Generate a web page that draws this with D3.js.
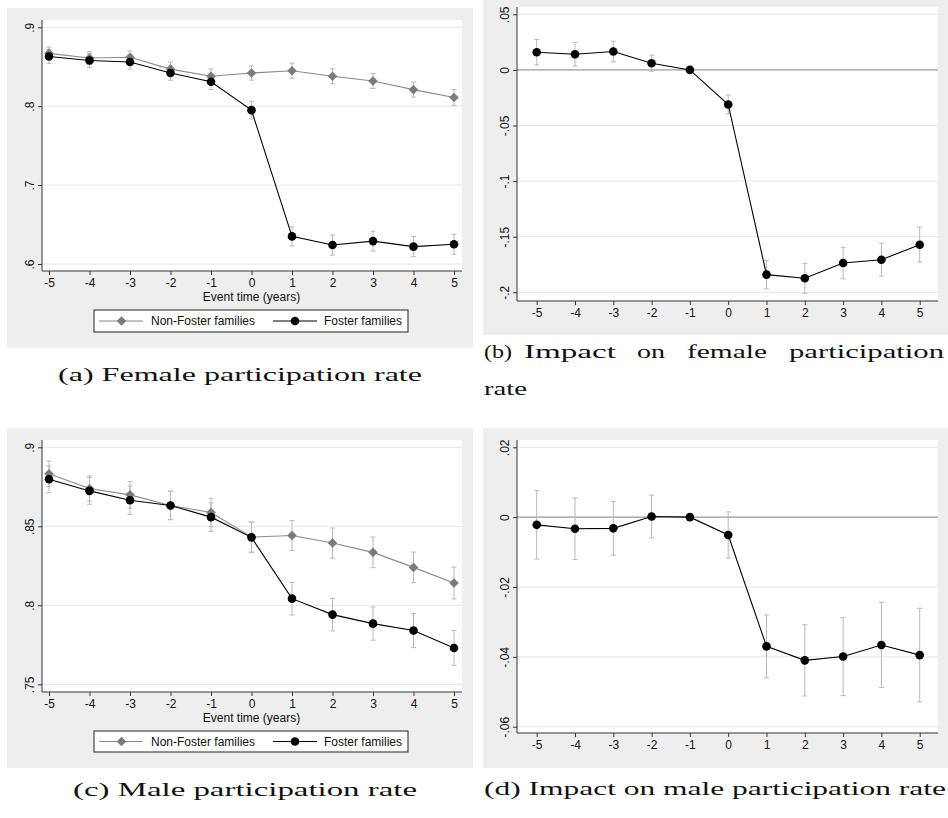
<!DOCTYPE html>
<html>
<head>
<meta charset="utf-8">
<script src="https://cdn.jsdelivr.net/npm/d3@7"></script>
<style>
  body { margin: 0; background: #fff; }
  svg { display: block; }
  .tick text { font-family: "Liberation Sans", Arial, sans-serif; font-size: 12px; fill: #111; }
  .cap { font-family: "Liberation Serif", "DejaVu Serif", serif; font-size: 18.5px; fill: #111; }
</style>
</head>
<body>
<svg id="fig" width="948" height="818"></svg>
<script>
// event time
var years = [-5, -4, -3, -2, -1, 0, 1, 2, 3, 4, 5];

// (a) female participation rate
var femNonFoster   = [0.867, 0.861, 0.862, 0.847, 0.838, 0.842, 0.845, 0.838, 0.832, 0.821, 0.811];
var femNonFosterCi = [0.008, 0.008, 0.008, 0.009, 0.009, 0.009, 0.0095, 0.0095, 0.0095, 0.0095, 0.01];
var femFoster      = [0.863, 0.858, 0.856, 0.842, 0.831, 0.795, 0.635, 0.624, 0.629, 0.622, 0.625];
var femFosterCi    = [0.009, 0.009, 0.009, 0.009, 0.01, 0.011, 0.012, 0.0127, 0.0125, 0.0127, 0.0127];

// (b) impact on female participation
var femImpact   = [0.0159, 0.0141, 0.0165, 0.006, 0, -0.0311, -0.1841, -0.1874, -0.1737, -0.1707, -0.1572];
var femImpactCi = [0.0115, 0.0106, 0.0093, 0.0072, 0, 0.0085, 0.0129, 0.0135, 0.0142, 0.0148, 0.0157];

// (c) male participation rate
var maleNonFoster   = [0.8832, 0.8739, 0.8699, 0.8632, 0.8587, 0.8432, 0.8442, 0.8394, 0.8335, 0.824, 0.8141];
var maleNonFosterCi = [0.008, 0.008, 0.0085, 0.009, 0.009, 0.0095, 0.0095, 0.0095, 0.0097, 0.0097, 0.0101];
var maleFoster      = [0.8798, 0.8724, 0.8665, 0.8632, 0.8558, 0.843, 0.8042, 0.7941, 0.7884, 0.784, 0.773];
var maleFosterCi    = [0.0085, 0.0085, 0.009, 0.009, 0.009, 0.0095, 0.0103, 0.0103, 0.0105, 0.0108, 0.011];

// (d) impact on male participation
var maleImpact   = [-0.0022, -0.0033, -0.0032, 0.0002, 0, -0.0051, -0.037, -0.041, -0.0399, -0.0366, -0.0395];
var maleImpactCi = [0.0098, 0.0088, 0.0077, 0.0061, 0, 0.0066, 0.009, 0.0102, 0.0112, 0.0122, 0.0134];

// axis ticks
var ticksA = [0.6, 0.7, 0.8, 0.9],          labelsA = [".6", ".7", ".8", ".9"];
var ticksB = [-0.2, -0.15, -0.1, -0.05, 0, 0.05], labelsB = ["-.2", "-.15", "-.1", "-.05", "0", ".05"];
var ticksC = [0.75, 0.8, 0.85, 0.9],        labelsC = [".75", ".8", ".85", ".9"];
var ticksD = [-0.06, -0.04, -0.02, 0, 0.02], labelsD = ["-.06", "-.04", "-.02", "0", ".02"];

var legendLabels = ["Non-Foster families", "Foster families"];

var svg = d3.select("#fig");
var gridCol = "#e6e6e6", barCol = "#b9b9b9", greyLine = "#8a8a8a", greyMark = "#7b7b7b", axisCol = "#333";

function fmtFrom(ticks, labels) {
  return function(d) {
    var i = ticks.findIndex(function(t) { return Math.abs(t - d) < 1e-9; });
    return i < 0 ? "" : labels[i];
  };
}

// one stata-style panel
function panel(cfg) {
  svg.append("rect").attr("x", cfg.bg[0]).attr("y", cfg.bg[1])
    .attr("width", cfg.bg[2]).attr("height", cfg.bg[3]).attr("fill", "#eeeeee");
  var p = cfg.plot; // [x0, y0, x1, y1]
  svg.append("rect").attr("x", p[0]).attr("y", p[1])
    .attr("width", p[2] - p[0]).attr("height", p[3] - p[1]).attr("fill", "#fff");

  var x = d3.scaleLinear().domain([-5, 5]).range(cfg.xr);
  var y = d3.scaleLinear().domain([cfg.ticks[0], cfg.ticks[cfg.ticks.length - 1]]).range(cfg.yr);

  // grid
  svg.append("g").selectAll("line").data(cfg.ticks).join("line")
    .attr("x1", p[0]).attr("x2", p[2])
    .attr("y1", function(d) { return y(d); }).attr("y2", function(d) { return y(d); })
    .attr("stroke", function(d) { return (cfg.zero && d === 0) ? "#9a9a9a" : gridCol; })
    .attr("stroke-width", function(d) { return (cfg.zero && d === 0) ? 1.3 : 1; });

  // axes
  var ya = svg.append("g").attr("transform", "translate(" + p[0] + ",0)")
    .call(d3.axisLeft(y).tickValues(cfg.ticks).tickFormat(fmtFrom(cfg.ticks, cfg.labels)).tickSize(4).tickPadding(0));
  ya.select(".domain").remove();
  ya.selectAll(".tick line").attr("stroke", axisCol);
  ya.selectAll(".tick text").attr("text-anchor", "middle").attr("x", 0).attr("dy", 0)
    .attr("transform", "translate(-8,0) rotate(-90)");

  var xa = svg.append("g").attr("transform", "translate(0," + p[3] + ")")
    .call(d3.axisBottom(x).tickValues(years).tickFormat(d3.format("d")).tickSize(4).tickPadding(3));
  xa.select(".domain").remove();
  xa.selectAll(".tick line").attr("stroke", axisCol);
  xa.selectAll(".tick text").text(function(d) { return d < 0 ? "-" + Math.abs(d) : d; });

  svg.append("line").attr("x1", p[0]).attr("x2", p[0]).attr("y1", p[1]).attr("y2", p[3]).attr("stroke", axisCol);
  svg.append("line").attr("x1", p[0]).attr("x2", p[2]).attr("y1", p[3]).attr("y2", p[3]).attr("stroke", axisCol);

  if (cfg.xtitle) {
    svg.append("text").attr("x", (cfg.xr[0] + cfg.xr[1]) / 2).attr("y", p[3] + 30)
      .attr("text-anchor", "middle").attr("font-family", "Liberation Sans, Arial, sans-serif")
      .attr("font-size", 12).attr("fill", "#111").text(cfg.xtitle);
  }

  // error bars first, then lines and markers
  cfg.series.forEach(function(s) {
    var eb = svg.append("g").attr("stroke", barCol).attr("stroke-width", 1).attr("fill", "none");
    years.forEach(function(t, i) {
      if (s.ci[i] === 0) return;
      var lo = y(s.v[i] - s.ci[i]), hi = y(s.v[i] + s.ci[i]), cx = x(t);
      eb.append("line").attr("x1", cx).attr("x2", cx).attr("y1", lo).attr("y2", hi);
      eb.append("line").attr("x1", cx - 2.5).attr("x2", cx + 2.5).attr("y1", lo).attr("y2", lo);
      eb.append("line").attr("x1", cx - 2.5).attr("x2", cx + 2.5).attr("y1", hi).attr("y2", hi);
    });
  });
  cfg.series.forEach(function(s) {
    var line = d3.line().x(function(d, i) { return x(years[i]); }).y(function(d) { return y(d); });
    svg.append("path").attr("d", line(s.v)).attr("fill", "none")
      .attr("stroke", s.grey ? greyLine : "#000").attr("stroke-width", 1.1);
    var m = svg.append("g");
    s.v.forEach(function(v, i) {
      if (s.grey) {
        m.append("path").attr("d", d3.symbol(d3.symbolSquare, 46)())
          .attr("transform", "translate(" + x(years[i]) + "," + y(v) + ") rotate(45)")
          .attr("fill", greyMark);
      } else {
        m.append("circle").attr("cx", x(years[i])).attr("cy", y(v)).attr("r", 4.3).attr("fill", "#000");
      }
    });
  });

  if (cfg.legend) {
    var L = cfg.legend; // [x, y, w, h]
    var lg = svg.append("g");
    lg.append("rect").attr("x", L[0]).attr("y", L[1]).attr("width", L[2]).attr("height", L[3])
      .attr("fill", "#fff").attr("stroke", "#222").attr("stroke-width", 1);
    var cy = L[1] + L[3] / 2;
    lg.append("line").attr("x1", L[0] + 5).attr("x2", L[0] + 49).attr("y1", cy).attr("y2", cy).attr("stroke", greyLine).attr("stroke-width", 1.1);
    lg.append("path").attr("d", d3.symbol(d3.symbolSquare, 46)())
      .attr("transform", "translate(" + (L[0] + 27.5) + "," + cy + ") rotate(45)").attr("fill", greyMark);
    lg.append("line").attr("x1", L[0] + 179).attr("x2", L[0] + 223).attr("y1", cy).attr("y2", cy).attr("stroke", "#000").attr("stroke-width", 1.1);
    lg.append("circle").attr("cx", L[0] + 201).attr("cy", cy).attr("r", 4.3).attr("fill", "#000");
    [[L[0] + 57, legendLabels[0]], [L[0] + 230, legendLabels[1]]].forEach(function(d) {
      lg.append("text").attr("x", d[0]).attr("y", cy + 4).attr("font-family", "Liberation Sans, Arial, sans-serif")
        .attr("font-size", 12).attr("fill", "#111").text(d[1]);
    });
  }
}

panel({ bg: [7, 8, 466, 340], plot: [42, 20, 462, 271], xr: [49, 454], yr: [264, 27.3],
  ticks: ticksA, labels: labelsA, xtitle: "Event time (years)", legend: [94, 310, 314, 22],
  series: [{ v: femNonFoster, ci: femNonFosterCi, grey: true }, { v: femFoster, ci: femFosterCi }] });

panel({ bg: [483, 0, 465, 335], plot: [517, 7, 938, 301], xr: [536.7, 919.7], yr: [292.3, 14.3],
  ticks: ticksB, labels: labelsB, zero: true,
  series: [{ v: femImpact, ci: femImpactCi }] });

panel({ bg: [7, 428, 466, 340], plot: [42, 440, 462, 692], xr: [49, 454], yr: [684.3, 447.3],
  ticks: ticksC, labels: labelsC, xtitle: "Event time (years)", legend: [94, 731, 314, 21],
  series: [{ v: maleNonFoster, ci: maleNonFosterCi, grey: true }, { v: maleFoster, ci: maleFosterCi }] });

panel({ bg: [483, 428, 465, 340], plot: [517, 440, 938, 733], xr: [536.7, 919.7], yr: [726.7, 447.3],
  ticks: ticksD, labels: labelsD, zero: true,
  series: [{ v: maleImpact, ci: maleImpactCi }] });

// captions
function caption(x, y, len, str) {
  svg.append("text").attr("class", "cap").attr("x", x).attr("y", y)
    .attr("textLength", len).attr("lengthAdjust", "spacingAndGlyphs").text(str);
}
caption(58, 380.5, 364, "(a) Female participation rate");
caption(73, 796, 344, "(c) Male participation rate");
caption(484, 795, 462, "(d) Impact on male participation rate");
// (b) is justified over two lines
var bWords = [["(b)", 484, 28], ["Impact", 524, 92], ["on", 637, 28], ["female", 687, 80], ["participation", 789, 155]];
bWords.forEach(function(w) { caption(w[1], 357.5, w[2], w[0]); });
caption(484, 394.5, 43, "rate");
</script>
</body>
</html>
